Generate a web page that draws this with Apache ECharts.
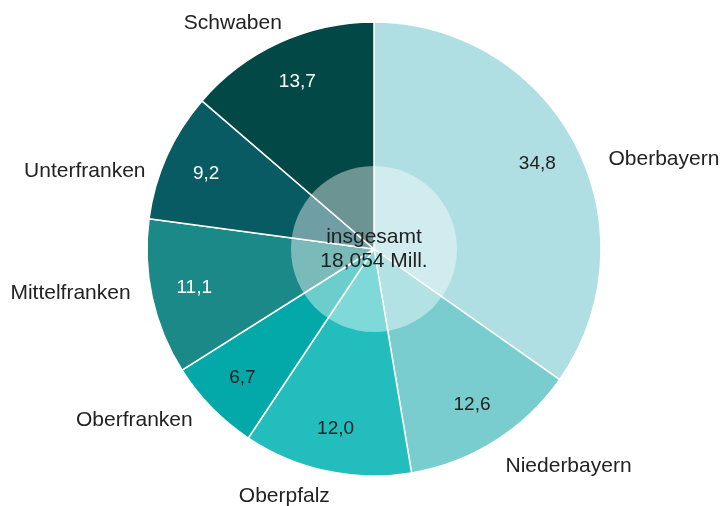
<!DOCTYPE html>
<html>
<head>
<meta charset="utf-8">
<script src="https://cdn.jsdelivr.net/npm/echarts@6/dist/echarts.min.js"></script>
<style>
  html, body { margin: 0; padding: 0; background: #fff; }
  #chart { width: 723px; height: 506px; }
</style>
</head>
<body>
<div id="chart"></div>
<script>
// Regierungsbezirke, Anteil in %
var regions = ['Oberbayern', 'Niederbayern', 'Oberpfalz', 'Oberfranken', 'Mittelfranken', 'Unterfranken', 'Schwaben']
var shares = [34.8, 12.6, 12.0, 6.7, 11.1, 9.2, 13.7]
var totalText = ['insgesamt', '18,054 Mill.']

var colors = ['#afdee3', '#7acdcf', '#23bdbd', '#03a9a9', '#1a8987', '#085b62', '#024846']
// dunkle Segmente bekommen weiße Zahlen
var lightText = [false, false, false, false, true, true, true]

var center = [374, 249]
var R = 227
// kleine Korrekturen der äußeren Beschriftung (px)
var labelNudge = {
    Oberbayern: [6, 23],
    Niederbayern: [-10, 10],
    Oberpfalz: [18, 8],
    Oberfranken: [5, 0],
    Mittelfranken: [7, -8],
    Unterfranken: [6, 23],
    Schwaben: [21, -3]
}

var chart = echarts.init(document.getElementById('chart'))

chart.setOption({
    animation: false,
    series: [
        {
            // Segmente + äußere Beschriftung
            type: 'pie',
            center: center,
            radius: [0, R],
            startAngle: 90,
            clockwise: true,
            data: regions.map(function (name, i) {
                return { name: name, value: shares[i], itemStyle: { color: colors[i] } }
            }),
            itemStyle: { borderColor: '#ffffff', borderWidth: 1.5 },
            label: {
                position: 'outside',
                formatter: '{b}',
                fontFamily: 'Liberation Sans',
                fontSize: 21,
                color: '#222222',
                overflow: 'none'
            },
            labelLine: { show: false, length: 18, length2: 6 },
            labelLayout: function (p) {
                var n = labelNudge[regions[p.dataIndex]] || [0, 0]
                return { dx: n[0], dy: n[1] }
            },
            emphasis: { disabled: true },
            silent: true,
            z: 1
        },
        {
            // halbtransparenter Kreis in der Mitte
            type: 'pie',
            center: center,
            radius: [0, 83],
            data: [{ value: 1, name: 'gesamt' }],
            itemStyle: { color: 'rgba(255,255,255,0.42)', borderWidth: 0 },
            label: {
                position: 'center',
                formatter: totalText.join('\n'),
                fontFamily: 'Liberation Sans',
                fontSize: 21,
                lineHeight: 24,
                color: '#222222'
            },
            labelLine: { show: false },
            emphasis: { disabled: true },
            silent: true,
            z: 2
        },
        {
            // Werte in den Segmenten
            type: 'pie',
            center: center,
            radius: [135, R],
            startAngle: 90,
            clockwise: true,
            data: regions.map(function (name, i) {
                return {
                    name: name,
                    value: shares[i],
                    label: { color: lightText[i] ? '#ffffff' : '#222222' }
                }
            }),
            itemStyle: { color: 'rgba(0,0,0,0)', borderWidth: 0 },
            label: {
                position: 'inside',
                formatter: function (p) { return p.value.toFixed(1).replace('.', ',') },
                fontFamily: 'Liberation Sans',
                fontSize: 19
            },
            labelLine: { show: false },
            emphasis: { disabled: true },
            silent: true,
            z: 3
        }
    ]
})
</script>
</body>
</html>
